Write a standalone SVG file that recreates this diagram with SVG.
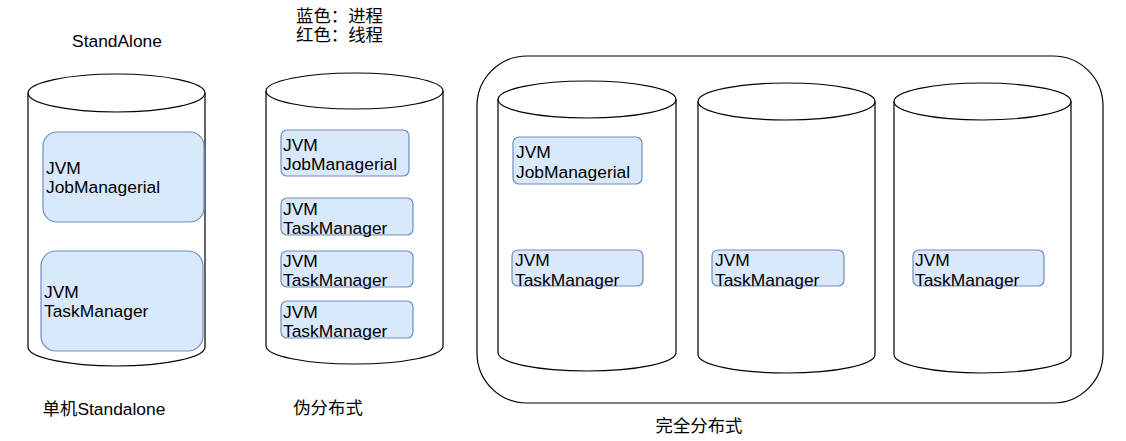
<svg xmlns="http://www.w3.org/2000/svg" width="1126" height="441" viewBox="0 0 1126 441">
<style>
.cyl{fill:#fff;stroke:#000;stroke-width:1.2}
.cyl-in{fill:none;stroke:#000;stroke-width:1.2}
.box{fill:#dae8fc;stroke:#6c8ebf;stroke-width:1.2}
.t{font-family:"Liberation Sans",Arial,"Noto Sans CJK SC",sans-serif;font-size:17.4px;fill:#000}
.m{text-anchor:middle}
</style>
<rect width="1126" height="441" fill="#fff"/>
<g id="labels">
<text class="t m" x="117" y="47">StandAlone</text>
<text class="t m" x="104" y="415">单机Standalone</text>
<text class="t" x="296" y="22">蓝色：进程</text>
<text class="t" x="296" y="41">红色：线程</text>
<text class="t m" x="328" y="414">伪分布式</text>
<text class="t m" x="699" y="432">完全分布式</text>
</g>
<g id="cluster">
<rect x="477" y="56" width="626" height="347" rx="50" ry="50" fill="#fff" stroke="#000" stroke-width="1.2"/>
</g>
<g id="cyl1">
<path class="cyl" d="M28,93 A88.5,19 0 0 1 205,93 L205,347 A88.5,19 0 0 1 28,347 Z"/>
<path class="cyl-in" d="M28,93 A88.5,19 0 0 0 205,93"/>
</g>
<g id="cyl2">
<path class="cyl" d="M266,91 A88.5,18 0 0 1 443,91 L443,346 A88.5,18 0 0 1 266,346 Z"/>
<path class="cyl-in" d="M266,91 A88.5,18 0 0 0 443,91"/>
</g>
<g id="cyl3">
<path class="cyl" d="M498,99.5 A89,18.5 0 0 1 676,99.5 L676,352.5 A89,18.5 0 0 1 498,352.5 Z"/>
<path class="cyl-in" d="M498,99.5 A89,18.5 0 0 0 676,99.5"/>
</g>
<g id="cyl4">
<path class="cyl" d="M698,101.5 A88.5,18.5 0 0 1 875,101.5 L875,354.5 A88.5,18.5 0 0 1 698,354.5 Z"/>
<path class="cyl-in" d="M698,101.5 A88.5,18.5 0 0 0 875,101.5"/>
</g>
<g id="cyl5">
<path class="cyl" d="M894,101.5 A88.5,18.5 0 0 1 1071,101.5 L1071,354.5 A88.5,18.5 0 0 1 894,354.5 Z"/>
<path class="cyl-in" d="M894,101.5 A88.5,18.5 0 0 0 1071,101.5"/>
</g>
<g id="sa-job">
<rect class="box" x="43" y="132" width="161" height="90" rx="14"/>
<text class="t" x="46" y="174">JVM</text>
<text class="t" x="46" y="193">JobManagerial</text>
</g>
<g id="sa-task">
<rect class="box" x="41" y="251" width="162" height="100" rx="15"/>
<text class="t" x="44" y="298">JVM</text>
<text class="t" x="44" y="317">TaskManager</text>
</g>
<g id="pd-job">
<rect class="box" x="281" y="130" width="128" height="46" rx="6"/>
<text class="t" x="283" y="151">JVM</text>
<text class="t" x="283" y="170">JobManagerial</text>
</g>
<g id="pd-task1">
<rect class="box" x="281" y="198" width="132" height="37" rx="6"/>
<text class="t" x="283" y="215">JVM</text>
<text class="t" x="283" y="234">TaskManager</text>
</g>
<g id="pd-task2">
<rect class="box" x="281" y="251" width="132" height="36" rx="6"/>
<text class="t" x="283" y="267">JVM</text>
<text class="t" x="283" y="286">TaskManager</text>
</g>
<g id="pd-task3">
<rect class="box" x="281" y="301" width="132" height="37" rx="6"/>
<text class="t" x="283" y="318">JVM</text>
<text class="t" x="283" y="337">TaskManager</text>
</g>
<g id="fd-job">
<rect class="box" x="513" y="137" width="129" height="47" rx="6"/>
<text class="t" x="516" y="158">JVM</text>
<text class="t" x="516" y="178">JobManagerial</text>
</g>
<g id="fd-task1">
<rect class="box" x="512" y="250" width="131" height="36" rx="6"/>
<text class="t" x="515" y="266">JVM</text>
<text class="t" x="515" y="286">TaskManager</text>
</g>
<g id="fd-task2">
<rect class="box" x="712" y="250" width="132" height="36" rx="6"/>
<text class="t" x="715" y="266">JVM</text>
<text class="t" x="715" y="286">TaskManager</text>
</g>
<g id="fd-task3">
<rect class="box" x="913" y="250" width="131" height="36" rx="6"/>
<text class="t" x="915" y="266">JVM</text>
<text class="t" x="915" y="286">TaskManager</text>
</g>
<g id="connectors"/>
</svg>
